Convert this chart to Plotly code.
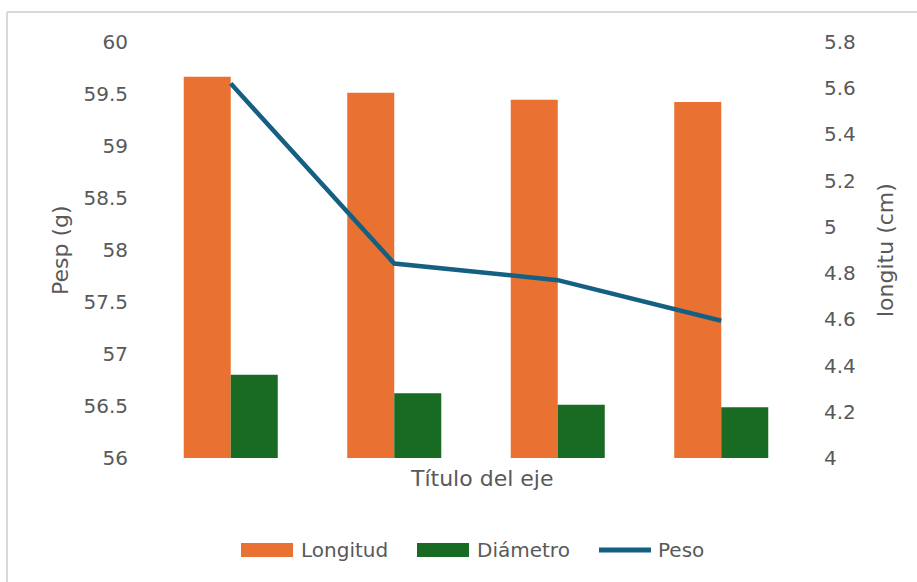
import plotly.graph_objects as go

# ---- data ----
categories = ["1", "2", "3", "4"]
longitud = [5.65, 5.58, 5.55, 5.54]      # cm (right axis)
diametro = [4.36, 4.28, 4.23, 4.22]      # cm (right axis)
peso = [59.60, 57.87, 57.71, 57.32]      # g (left axis)
series_names = ["Longitud", "Diámetro", "Peso"]
x_title = "Título del eje"
left_title = "Pesp (g)"
right_title = "longitu (cm)"

# ---- style ----
W, H = 917, 582
L, R, T, B = 149, 803, 42, 458          # plot area in pixels
PW, PH = R - L, B - T
C_OR, C_GR, C_BL = "#E97132", "#196B24", "#156082"
TXT = "#595959"
FONT = "DejaVu Sans"


def px(x):
    return (x - L) / PW


def py(y):
    return (B - y) / PH


fig = go.Figure()
fig.add_trace(go.Bar(x=categories, y=longitud, name=series_names[0],
                     marker=dict(color=C_OR, line=dict(width=0)),
                     yaxis="y", showlegend=False))
fig.add_trace(go.Bar(x=categories, y=diametro, name=series_names[1],
                     marker=dict(color=C_GR, line=dict(width=0)),
                     yaxis="y", showlegend=False))
fig.add_trace(go.Scatter(x=categories, y=peso, name=series_names[2],
                         mode="lines", line=dict(color=C_BL, width=4.5),
                         yaxis="y2", showlegend=False))

fig.update_layout(
    width=W, height=H,
    margin=dict(l=L, r=W - R, t=T, b=H - B, pad=0),
    paper_bgcolor="white", plot_bgcolor="white",
    font=dict(family=FONT, color=TXT, size=20),
    barmode="group", bargap=0.425, bargroupgap=0,
    xaxis=dict(type="category", showticklabels=False, showgrid=False,
               zeroline=False, showline=False, ticks=""),
    yaxis=dict(side="right", range=[4, 5.8], dtick=0.2, tick0=4,
               showgrid=False, zeroline=False, showline=False, ticks="",
               ticklabelstandoff=20, tickfont=dict(size=20, color=TXT)),
    yaxis2=dict(side="left", overlaying="y", range=[56, 60], dtick=0.5, tick0=56,
                showgrid=False, zeroline=False, showline=False, ticks="",
                ticklabelstandoff=20, tickfont=dict(size=20, color=TXT)),
)

annotations = [
    dict(text=x_title, x=px(482), y=py(478), xref="paper", yref="paper",
         showarrow=False, xanchor="center", yanchor="middle",
         font=dict(size=22, color=TXT, family=FONT)),
    dict(text=left_title, x=px(60), y=py(250), xref="paper", yref="paper",
         showarrow=False, textangle=-90, xanchor="center", yanchor="middle",
         font=dict(size=22, color=TXT, family=FONT)),
    dict(text=right_title, x=px(885), y=py(250), xref="paper", yref="paper",
         showarrow=False, textangle=-90, xanchor="center", yanchor="middle",
         font=dict(size=22, color=TXT, family=FONT)),
]

# manual legend
leg_y = 550
sw = [(241, 293, C_OR, 299), (417, 469, C_GR, 475)]
shapes = []
for (x0, x1, col, tx), name in zip(sw, series_names[:2]):
    shapes.append(dict(type="rect", xref="paper", yref="paper",
                       x0=px(x0), x1=px(x1), y0=py(leg_y + 7), y1=py(leg_y - 7),
                       fillcolor=col, line=dict(width=0)))
    annotations.append(dict(text=name, x=px(tx), y=py(leg_y), xref="paper", yref="paper",
                            showarrow=False, xanchor="left", yanchor="middle",
                            font=dict(size=20, color=TXT, family=FONT)))
shapes.append(dict(type="line", xref="paper", yref="paper",
                   x0=px(599), x1=px(651), y0=py(leg_y), y1=py(leg_y),
                   line=dict(color=C_BL, width=5)))
annotations.append(dict(text=series_names[2], x=px(656), y=py(leg_y), xref="paper", yref="paper",
                        showarrow=False, xanchor="left", yanchor="middle",
                        font=dict(size=20, color=TXT, family=FONT)))

# chart border (top and left edges visible)
shapes.append(dict(type="line", xref="paper", yref="paper",
                   x0=px(7), x1=px(W + 5), y0=py(12), y1=py(12),
                   line=dict(color="#D9D9D9", width=2)))
shapes.append(dict(type="line", xref="paper", yref="paper",
                   x0=px(7), x1=px(7), y0=py(12), y1=py(H + 5),
                   line=dict(color="#D9D9D9", width=2)))

fig.update_layout(annotations=annotations, shapes=shapes)
fig.write_html("out.html")
